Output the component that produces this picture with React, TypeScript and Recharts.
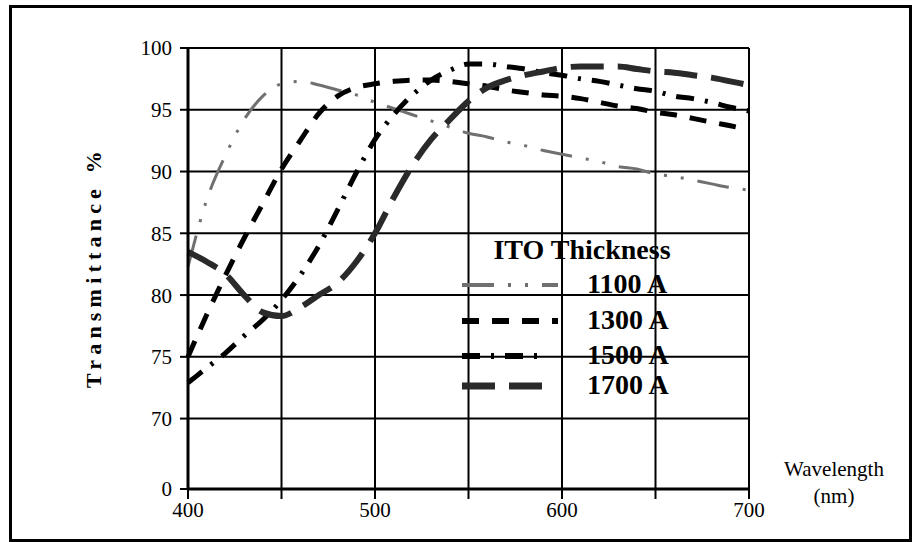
import { CartesianGrid, Line, LineChart, XAxis, YAxis } from 'recharts';

const SERIF = "'Liberation Serif', 'Times New Roman', serif";

// wavelength (nm)
const WAVELENGTHS = [400, 410, 420, 430, 440, 450, 460, 470, 480, 490, 500, 510, 520, 530, 540, 550, 560, 570, 580, 590, 600, 610, 620, 630, 640, 650, 660, 670, 680, 690, 700];

// transmittance % per ITO thickness
const T1100 = [82.3, 87.7, 91.3, 94.2, 96.1, 97.1, 97.3, 97.0, 96.6, 96.2, 95.6, 95.1, 94.6, 94.1, 93.6, 93.1, 92.8, 92.4, 92.1, 91.7, 91.4, 91.1, 90.8, 90.4, 90.2, 89.8, 89.6, 89.3, 89.0, 88.7, 88.5];
const T1300 = [75.0, 78.4, 81.6, 84.6, 87.4, 90.2, 92.5, 94.7, 96.1, 96.8, 97.1, 97.3, 97.4, 97.4, 97.3, 97.1, 96.9, 96.6, 96.4, 96.2, 96.1, 95.9, 95.6, 95.3, 95.1, 94.8, 94.6, 94.3, 94.0, 93.7, 93.4];
const T1500 = [72.9, 74.1, 75.3, 76.7, 78.0, 79.6, 81.6, 84.0, 86.9, 89.9, 92.6, 94.6, 96.2, 97.4, 98.2, 98.7, 98.7, 98.5, 98.3, 98.0, 97.8, 97.5, 97.3, 97.0, 96.7, 96.5, 96.1, 95.9, 95.6, 95.2, 94.9];
const T1700 = [83.5, 82.7, 81.7, 80.0, 78.6, 78.3, 79.0, 80.0, 81.0, 82.7, 85.0, 87.9, 90.5, 92.6, 94.2, 95.7, 96.8, 97.4, 97.8, 98.1, 98.4, 98.5, 98.5, 98.5, 98.3, 98.1, 98.0, 97.8, 97.6, 97.3, 97.0];

const X_TICKS = [400, 450, 500, 550, 600, 650, 700];
// the original axis is broken: the bottom is labelled 0, then 70..100
const AXIS_FLOOR = 64.3;
const Y_TICKS = [AXIS_FLOOR, 70, 75, 80, 85, 90, 95, 100];

const SERIES = [
  { key: 't1100', name: '1100 A', values: T1100, color: '#707070', width: 3, dash: '32 14 3 14 3 14' },
  { key: 't1300', name: '1300 A', values: T1300, color: '#000', width: 5, dash: '17 13' },
  { key: 't1500', name: '1500 A', values: T1500, color: '#000', width: 5, dash: '18 11 3 11' },
  { key: 't1700', name: '1700 A', values: T1700, color: '#2a2a2a', width: 6, dash: '33 14' },
];

const data = WAVELENGTHS.map((w, i) => {
  const row: Record<string, number> = { w };
  SERIES.forEach((s) => (row[s.key] = s.values[i]));
  return row;
});

function Overlay() {
  const rows = [285, 321, 356, 386];
  return (
    <svg width={912} height={542} style={{ position: 'absolute', left: 0, top: 0, pointerEvents: 'none' }}>
      <text x={93} y={267} transform="rotate(-90 93 267)" textAnchor="middle" dominantBaseline="central" fontFamily={SERIF} fontWeight="bold" fontSize={22} letterSpacing={5.2}>
        Transmittance %
      </text>
      <text x={834} y={469} textAnchor="middle" dominantBaseline="central" fontFamily={SERIF} fontSize={21}>Wavelength</text>
      <text x={834} y={496} textAnchor="middle" dominantBaseline="central" fontFamily={SERIF} fontSize={21}>(nm)</text>
      <text x={582} y={249} textAnchor="middle" dominantBaseline="central" fontFamily={SERIF} fontWeight="bold" fontSize={28}>ITO Thickness</text>
      {SERIES.map((s, i) => (
        <g key={s.key}>
          <line x1={462} x2={i < 2 ? 558 : 545} y1={rows[i]} y2={rows[i]} stroke={s.color} strokeWidth={s.width + 1} strokeDasharray={s.dash} />
          <text x={587} y={rows[i] - 2} dominantBaseline="central" fontFamily={SERIF} fontWeight="bold" fontSize={28}>{s.name}</text>
        </g>
      ))}
    </svg>
  );
}

export default function App() {
  return (
    <div style={{ position: 'absolute', left: 0, top: 0, width: 912, height: 542, background: '#fff' }}>
      <div style={{ position: 'absolute', left: 9, top: 5, right: 0, bottom: 0, border: '3px solid #000' }} />
      <LineChart width={912} height={542} data={data} margin={{ top: 48, right: 163, bottom: 23, left: 128 }} style={{ position: 'absolute', left: 0, top: 0 }}>
        <CartesianGrid stroke="#000" strokeWidth={2} />
        <XAxis
          dataKey="w"
          type="number"
          domain={[400, 700]}
          ticks={X_TICKS}
          height={30}
          tickFormatter={(v: number) => (v % 100 === 0 ? String(v) : '')}
          tick={{ fill: '#000', fontSize: 21, fontFamily: SERIF }}
          tickSize={10}
          tickMargin={3}
          axisLine={{ stroke: '#000', strokeWidth: 3 }}
          tickLine={{ stroke: '#000', strokeWidth: 2 }}
        />
        <YAxis
          type="number"
          domain={[AXIS_FLOOR, 100]}
          ticks={Y_TICKS}
          width={60}
          tickFormatter={(v: number) => (v < 70 ? '0' : String(v))}
          tick={{ fill: '#000', fontSize: 21, fontFamily: SERIF }}
          tickSize={8}
          tickMargin={8}
          axisLine={{ stroke: '#000', strokeWidth: 3 }}
          tickLine={{ stroke: '#000', strokeWidth: 2 }}
        />
        {SERIES.map((s) => (
          <Line key={s.key} type="monotone" dataKey={s.key} name={s.name} stroke={s.color} strokeWidth={s.width} strokeDasharray={s.dash} dot={false} isAnimationActive={false} />
        ))}
      </LineChart>
      <Overlay />
    </div>
  );
}
